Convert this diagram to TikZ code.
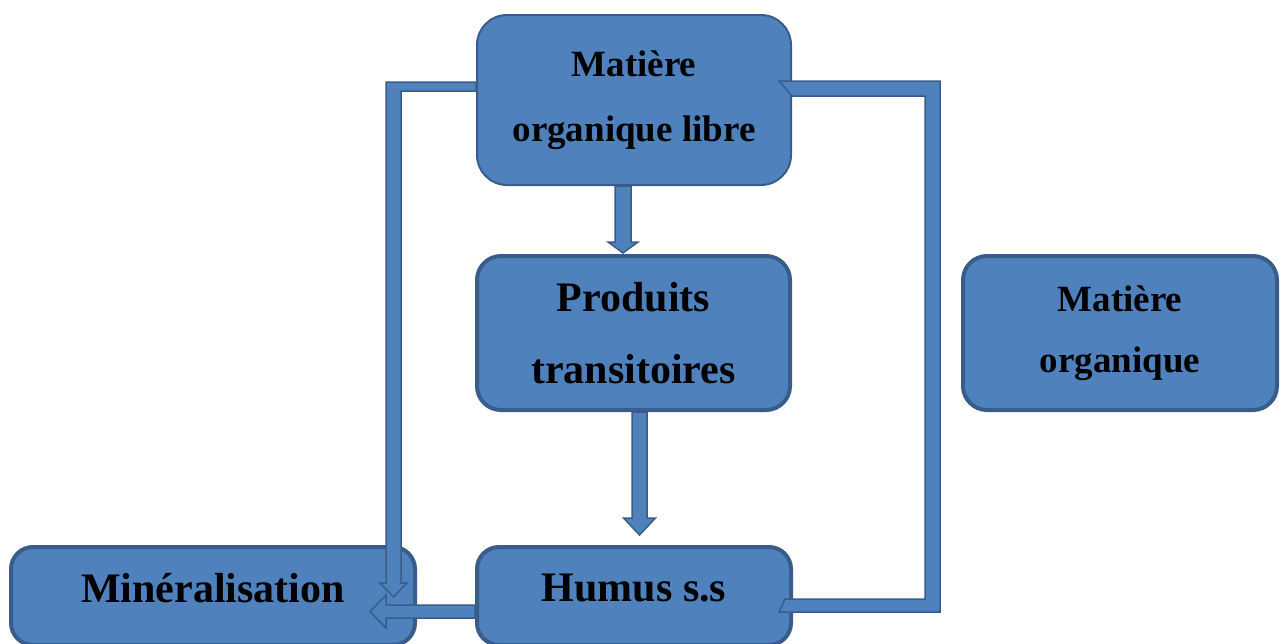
\documentclass[tikz,border=0pt]{standalone}
\usepackage{fontspec}
\setmainfont{Liberation Serif}
\usetikzlibrary{calc}

\definecolor{boxblue}{HTML}{4F81BD}
\definecolor{boxedge}{HTML}{385D8A}

\begin{document}
\begin{tikzpicture}[x=1pt,y=-1pt,
    box/.style={draw=boxedge,fill=boxblue,line width=4pt,rounded corners=24pt,align=center},
    flow/.style={draw=boxedge,fill=boxblue,line width=1.5pt,line join=miter}]
    \useasboundingbox (0,0) rectangle (1283,643);
    \clip (0,0) rectangle (1283,643);

    \node[box,line width=2pt,rounded corners=30pt,minimum width=314pt,minimum height=170pt,
        font=\bfseries\fontsize{37}{65}\selectfont] (lib) at (634,100) {Matière\\organique libre};
    \node[box,minimum width=313pt,minimum height=154pt,
        font=\bfseries\fontsize{42}{72}\selectfont] (trans) at (633.5,333) {Produits\\transitoires};
    \node[box,minimum width=314pt,minimum height=154pt,
        font=\bfseries\fontsize{37}{61}\selectfont] (mo) at (1120,333) {Matière\\organique};
    \node[box,rounded corners=22pt,minimum width=404pt,minimum height=98pt,text depth=16pt,
        font=\bfseries\fontsize{42}{50}\selectfont] (mine) at (213,596) {Minéralisation};
    \node[box,rounded corners=22pt,minimum width=314pt,minimum height=98pt,text depth=16pt,
        font=\bfseries\fontsize{42}{50}\selectfont] (humus) at (634,596) {Humus s.s};

    \filldraw[flow] ($(lib.south)+(-19,0)$) -- ++(0,56) -- ++(-7,0) -- ++(15,11) -- ++(15,-11)
        -- ++(-7,0) -- ++(0,-56) -- cycle;
    \filldraw[flow] ($(trans.south)+(-1.5,0)$) -- ++(0,106) -- ++(-8.5,0) -- ++(16,17) -- ++(16,-17)
        -- ++(-8.5,0) -- ++(0,-106) -- cycle;
    \filldraw[flow] ($(lib.west)+(0,-18)$) -- ++(-90,0) -- ++(0,501) -- ++(-6,0) -- ++(13.5,14)
        -- ++(13.5,-14) -- ++(-6,0) -- ++(0,-492) -- ++(75,0) -- cycle;
    \filldraw[flow] ($(humus.west)+(0,9)$) -- ++(-89,0) -- ++(0,-10) -- ++(-16,16.5) -- ++(16,16.5)
        -- ++(0,-10) -- ++(89,0) -- cycle;
    \filldraw[flow] ($(humus.east)+(-14,16)$) -- ++(161,0) -- ++(0,-531) -- ++(-161,0) -- ++(13,15)
        -- ++(133,0) -- ++(0,503) -- ++(-140,0) -- cycle;
\end{tikzpicture}
\end{document}
